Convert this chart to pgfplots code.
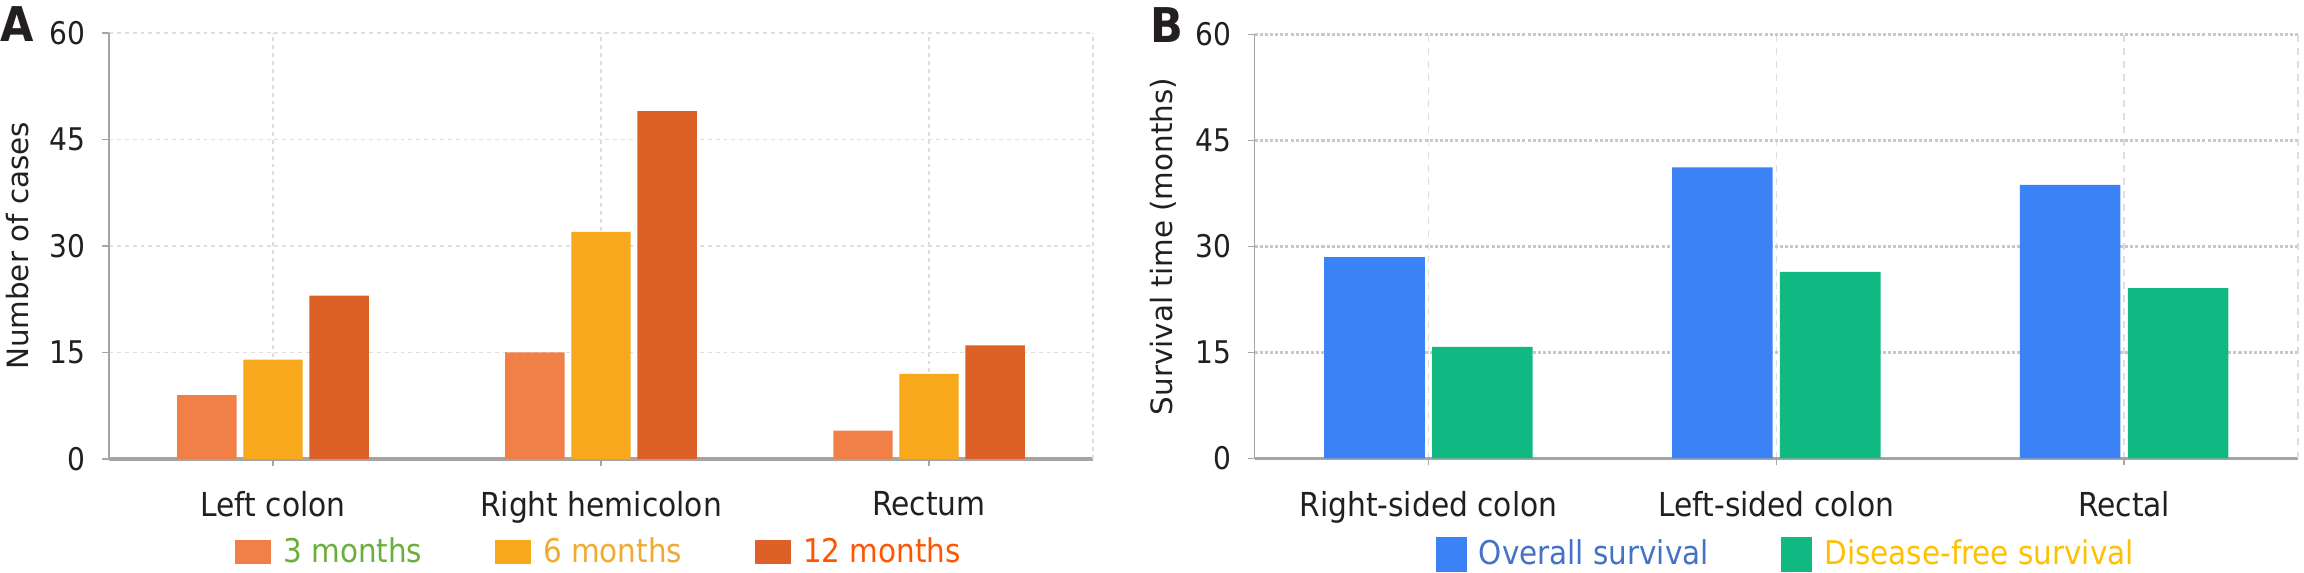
\documentclass[border=0pt]{standalone}
\usepackage{fontspec}
\setmainfont{DejaVu Sans Condensed}
\newfontfamily\labelfont{DejaVu Sans}
\usepackage{pgfplots}
\pgfplotsset{compat=1.18}

\definecolor{cthree}{RGB}{240,128,72}
\definecolor{csix}{RGB}{247,168,27}
\definecolor{ctwelve}{RGB}{221,97,39}
\definecolor{lthree}{RGB}{106,175,61}
\definecolor{lsix}{RGB}{240,170,50}
\definecolor{ltwelve}{RGB}{255,85,0}
\definecolor{osblue}{RGB}{59,130,246}
\definecolor{dfsgreen}{RGB}{16,185,129}
\definecolor{losblue}{RGB}{68,114,196}
\definecolor{ldfsgold}{RGB}{255,192,0}
\definecolor{axisgray}{RGB}{165,165,165}
\definecolor{gridgray}{RGB}{222,222,222}
\definecolor{txt}{RGB}{35,31,32}

\pgfplotsset{
  panel/.style={
    scale only axis,
    clip=false,
    ybar,
    ymin=0, ymax=60, ytick={0,15,30,45,60},
    xmin=-0.5, xmax=2.5, xtick={0,1,2},
    axis x line*=bottom, axis y line*=left,
    x axis line style={draw=axisgray, line width=1pt, -},
    y axis line style={draw=axisgray, line width=0.6pt, -},
    tick align=outside,
    major tick length=2.2pt,
    tick style={draw=axisgray, line width=0.5pt},
    ymajorgrids, xmajorgrids,
    extra x ticks={2.5}, extra x tick labels={},
    extra x tick style={major tick length=0pt, grid=major},
    ticklabel style={font=\fontsize{10.3}{12}\selectfont, text=txt},
    yticklabel style={xshift=-2pt},
    xticklabel style={font=\fontsize{10.9}{13}\selectfont, yshift=-5pt},
    /pgf/number format/assume math mode=true,
    ylabel style={font=\labelfont\fontsize{9.7}{11}\selectfont, text=txt, anchor=center},
    legend columns=-1,
    legend style={draw=none, fill=none, anchor=center,
      font=\fontsize{10.8}{13}\selectfont,
      /tikz/every odd column/.append style={column sep=2pt},
      /tikz/every even column/.append style={column sep=22pt}},
  }
}

\begin{document}
\begin{tikzpicture}
\path[use as bounding box] (0pt,0pt) rectangle (760.32pt,-189.09pt);

% panel A
\begin{axis}[
  panel,
  at={(35.97pt,-151.47pt)}, anchor=south west,
  width=324.72pt, height=140.58pt,
  grid style={draw=gridgray, line width=0.5pt, dash pattern=on 1.3pt off 1.3pt},
  xticklabels={Left colon, Right hemicolon, Rectum},
  ylabel={Number of cases},
  ylabel style={at={(axis description cs:-0.0925,0.5)}},
  legend style={at={(0.5,-0.218)}},
  legend image code/.code={\fill[#1] (0pt,-3.96pt) rectangle (11.88pt,3.96pt);},
]
\addplot[fill=cthree, draw=none, bar width=19.6pt, bar shift=-21.8pt]
  coordinates {(0,9) (1,15) (2,4)};
\addplot[fill=csix, draw=none, bar width=19.6pt, bar shift=0pt]
  coordinates {(0,14) (1,32) (2,12)};
\addplot[fill=ctwelve, draw=none, bar width=19.6pt, bar shift=21.8pt]
  coordinates {(0,23) (1,49) (2,16)};
\legend{\textcolor{lthree}{3 months}, \textcolor{lsix}{6 months}, \textcolor{ltwelve}{12 months}}
\node[anchor=base west, inner sep=0pt, text=txt, font=\bfseries\fontsize{15.8}{18}\selectfont]
  at (axis description cs:-0.1108,0.979) {A};
\end{axis}

% panel B
\begin{axis}[
  panel,
  at={(413.99pt,-151.3pt)}, anchor=south west,
  width=344.36pt, height=139.92pt,
  grid style={draw=gridgray, line width=0.5pt, dash pattern=on 2.3pt off 2pt},
  y grid style={draw=gridgray!90!black, line width=1pt, dash pattern=on 1pt off 0.7pt},
  xticklabels={Right-sided colon, Left-sided colon, Rectal},
  ylabel={Survival time (months)},
  ylabel style={at={(axis description cs:-0.0877,0.5)}},
  legend style={at={(0.511,-0.226)}},
  legend image code/.code={\fill[#1] (0pt,-5.8pt) rectangle (10.2pt,5.8pt);},
]
\addplot[fill=osblue, draw=none, bar width=33.2pt, bar shift=-17.8pt]
  coordinates {(0,28.5) (1,41.2) (2,38.7)};
\addplot[fill=dfsgreen, draw=none, bar width=33.2pt, bar shift=17.8pt]
  coordinates {(0,15.8) (1,26.4) (2,24.1)};
\legend{\textcolor{losblue}{Overall survival}, \textcolor{ldfsgold}{Disease-free survival}}
\node[anchor=base west, inner sep=0pt, text=txt, font=\bfseries\fontsize{15.8}{18}\selectfont]
  at (axis description cs:-0.1001,0.982) {B};
\end{axis}
\end{tikzpicture}
\end{document}
